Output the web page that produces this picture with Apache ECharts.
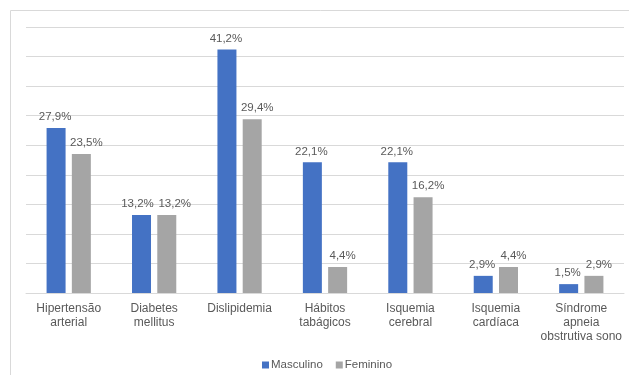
<!DOCTYPE html>
<html>
<head>
<meta charset="utf-8">
<script src="https://cdn.jsdelivr.net/npm/echarts@6/dist/echarts.min.js"></script>
<style>
  html, body { margin: 0; padding: 0; background: #fff; }
  #chart { width: 629px; height: 375px; }
</style>
</head>
<body>
<div id="chart"></div>
<script>
const categories = ['Hipertensão\narterial', 'Diabetes\nmellitus', 'Dislipidemia', 'Hábitos\ntabágicos',
  'Isquemia\ncerebral', 'Isquemia\ncardíaca', 'Síndrome\napneia\nobstrutiva sono']
const masculino = [27.9, 13.2, 41.2, 22.1, 22.1, 2.9, 1.5]
const feminino = [23.5, 13.2, 29.4, 4.4, 16.2, 4.4, 2.9]

const textColor = '#595959'
const lineColor = '#d9d9d9'
const font = 'Liberation Sans, Arial, sans-serif'

const fmt = p => p.value.toFixed(1).replace('.', ',') + '%'

const chart = echarts.init(document.getElementById('chart'))
chart.setOption({
  animation: false,
  textStyle: { fontFamily: font },
  graphic: [{
    type: 'rect',
    shape: { x: 10.5, y: 10.5, width: 700, height: 500 },
    style: { fill: 'none', stroke: lineColor, lineWidth: 1 },
    silent: true
  }],
  legend: {
    left: 257,
    top: 354,
    icon: 'rect',
    itemWidth: 7,
    itemHeight: 7,
    itemGap: 13,
    textStyle: { color: textColor, fontSize: 11.5, fontFamily: font, padding: [0, 0, 0, -3] }
  },
  grid: { left: 26, right: 5, top: 27, bottom: 82, containLabel: false },
  xAxis: {
    type: 'category',
    data: categories,
    axisLine: { lineStyle: { color: lineColor } },
    axisTick: { show: false },
    axisLabel: { interval: 0, color: textColor, fontSize: 12, lineHeight: 14, margin: 9, fontFamily: font }
  },
  yAxis: {
    type: 'value',
    min: 0,
    max: 45,
    interval: 5,
    axisLabel: { show: false },
    axisLine: { show: false },
    axisTick: { show: false },
    splitLine: { lineStyle: { color: lineColor } }
  },
  series: [
    {
      name: 'Masculino',
      type: 'bar',
      data: masculino,
      barWidth: 19,
      barGap: '33%',
      itemStyle: { color: '#4472C4' },
      label: { show: true, position: 'top', distance: 5, formatter: fmt, color: textColor, fontSize: 11.5, fontFamily: font },
      labelLayout: p => ({ dx: p.dataIndex === 1 ? -4 : -1 })
    },
    {
      name: 'Feminino',
      type: 'bar',
      data: feminino,
      barWidth: 19,
      itemStyle: { color: '#A5A5A5' },
      label: { show: true, position: 'top', distance: 5, formatter: fmt, color: textColor, fontSize: 11.5, fontFamily: font },
      labelLayout: p => ({ dx: p.dataIndex === 1 ? 8 : 5 })
    }
  ]
})
</script>
</body>
</html>
